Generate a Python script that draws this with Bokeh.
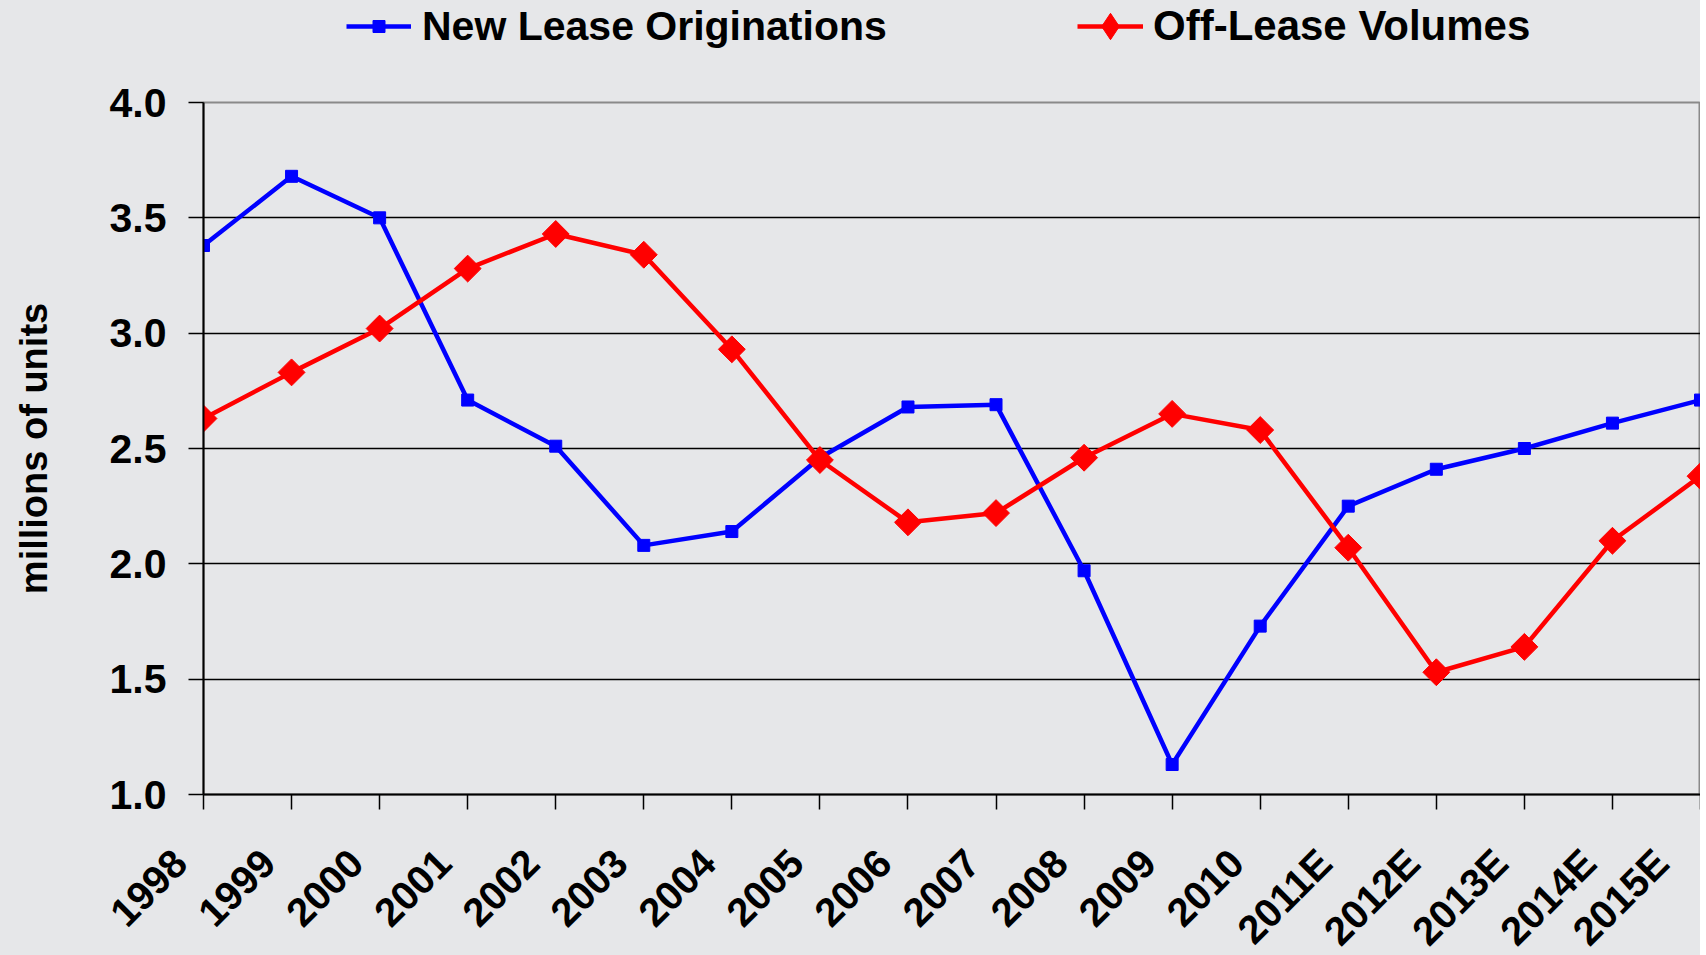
import math
from bokeh.plotting import figure
from bokeh.layouts import column
from bokeh.models import Range1d, FixedTicker, Legend, LegendItem
from bokeh.embed import file_html
from bokeh.resources import INLINE

years = ["1998", "1999", "2000", "2001", "2002", "2003", "2004", "2005", "2006",
         "2007", "2008", "2009", "2010", "2011E", "2012E", "2013E", "2014E", "2015E"]
new_lease = [3.38, 3.68, 3.50, 2.71, 2.51, 2.08, 2.14, 2.46, 2.68,
             2.69, 1.97, 1.13, 1.73, 2.25, 2.41, 2.50, 2.61, 2.71]
off_lease = [2.63, 2.83, 3.02, 3.28, 3.43, 3.34, 2.93, 2.45, 2.18,
             2.22, 2.46, 2.65, 2.58, 2.07, 1.53, 1.64, 2.10, 2.38]
y_ticks = [1.0, 1.5, 2.0, 2.5, 3.0, 3.5, 4.0]
series_names = ["New Lease Originations", "Off-Lease Volumes"]

xs = list(range(len(years)))
BG = "#e6e7e9"
FONT = "Liberation Sans"
BLUE = "#0000ff"
RED = "#ff0000"
W = 1700
TOP_H = 76

# ---------------- main chart ----------------
p = figure(width=W, height=895, output_backend="svg", toolbar_location=None,
           x_range=Range1d(0, len(years) - 1), y_range=Range1d(1.0, 4.0),
           min_border_left=203, min_border_right=0, min_border_top=26, min_border_bottom=150)
p.background_fill_color = BG
p.border_fill_color = BG
p.outline_line_color = "#8a8a8a"
p.outline_line_width = 2

p.xgrid.visible = False
p.ygrid.grid_line_color = "black"
p.ygrid.grid_line_width = 1.5
p.ygrid.ticker = FixedTicker(ticks=y_ticks)

p.xaxis.ticker = FixedTicker(ticks=xs)
p.xaxis.major_label_overrides = {i: y + "\u00a0\u00a0\u00a0" for i, y in enumerate(years)}
p.xaxis.major_label_orientation = math.pi / 4
p.xaxis.major_label_text_font = FONT
p.xaxis.major_label_text_font_style = "bold"
p.xaxis.major_label_text_font_size = "40px"
p.xaxis.major_label_text_color = "black"
p.xaxis.major_label_standoff = 23
p.xaxis.axis_line_width = 2
p.xaxis.axis_line_color = "black"
p.xaxis.major_tick_out = 15
p.xaxis.major_tick_in = 0
p.xaxis.major_tick_line_width = 1.5
p.xaxis.minor_tick_line_color = None

p.yaxis.ticker = FixedTicker(ticks=y_ticks)
p.yaxis.major_label_overrides = {t: f"{t:.1f}" for t in y_ticks}
p.yaxis.major_label_text_font = FONT
p.yaxis.major_label_text_font_style = "bold"
p.yaxis.major_label_text_font_size = "41px"
p.yaxis.major_label_text_color = "black"
p.yaxis.major_label_standoff = 22
p.yaxis.axis_line_width = 2
p.yaxis.axis_line_color = "black"
p.yaxis.major_tick_out = 15
p.yaxis.major_tick_in = 0
p.yaxis.major_tick_line_width = 1.5
p.yaxis.minor_tick_line_color = None
p.yaxis.axis_label = "millions of units"
p.yaxis.axis_label_text_font = FONT
p.yaxis.axis_label_text_font_style = "bold"
p.yaxis.axis_label_text_font_size = "38px"
p.yaxis.axis_label_text_color = "black"
p.yaxis.axis_label_standoff = 52

p.line(xs, new_lease, line_color=BLUE, line_width=4.5)
p.scatter(xs, new_lease, marker="square", size=12, fill_color=BLUE, line_color=BLUE)
p.line(xs, off_lease, line_color=RED, line_width=4.5)
p.scatter(xs, off_lease, marker="square", angle=math.pi / 4, size=19,
          fill_color=RED, line_color=RED)

# ---------------- legend strip ----------------
t = figure(width=W, height=TOP_H, output_backend="svg", toolbar_location=None,
           x_range=Range1d(0, len(years) - 1), y_range=Range1d(100, 101),
           x_axis_location=None, y_axis_location=None,
           min_border_left=0, min_border_right=0, min_border_top=0, min_border_bottom=0)
t.background_fill_color = BG
t.border_fill_color = BG
t.outline_line_color = None
t.grid.visible = False
tl1 = t.line(xs, new_lease, line_color=BLUE, line_width=4.5)
tm1 = t.scatter(xs, new_lease, marker="square", fill_color=BLUE, line_color=BLUE)
tl2 = t.line(xs, off_lease, line_color=RED, line_width=4.5)
tm2 = t.scatter(xs, off_lease, marker="diamond", fill_color=RED, line_color=RED)

common = dict(orientation="horizontal", label_text_font=FONT, label_text_font_style="bold",
              label_text_color="black", label_height=48,
              padding=0, margin=0, background_fill_alpha=0, border_line_alpha=0)
leg1 = Legend(items=[LegendItem(label=series_names[0], renderers=[tl1, tm1])],
              location=(143, 26), glyph_width=65, glyph_height=30, label_standoff=11,
              label_text_font_size="41px", **common)
leg2 = Legend(items=[LegendItem(label=series_names[1], renderers=[tl2, tm2])],
              location=(874, 15), glyph_width=66, glyph_height=70, label_standoff=10,
              label_text_font_size="42px", **common)
t.add_layout(leg1, "center")
t.add_layout(leg2, "center")

layout = column(t, p, spacing=0,
                styles={"background-color": BG, "max-height": "955px", "overflow": "hidden"})
open("out.html", "w").write(file_html(layout, INLINE))
